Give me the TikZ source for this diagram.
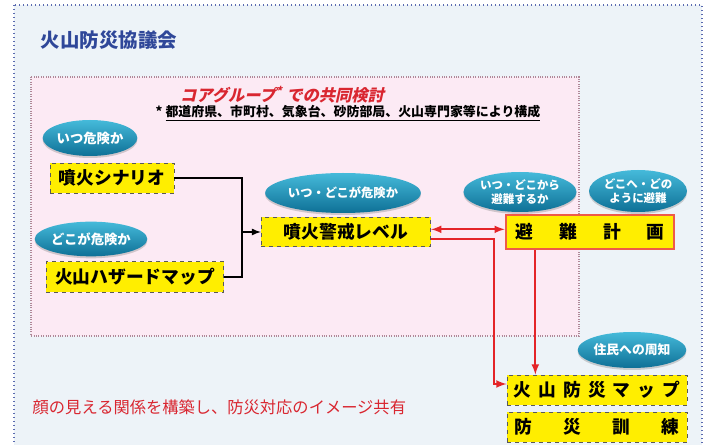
\documentclass[tikz,border=0pt]{standalone}
\usepackage{fontspec}
\setmainfont{Noto Sans CJK JP}
\newfontfamily\slantjp{Noto Sans CJK JP}[FakeSlant=0.22]
\usetikzlibrary{shapes.geometric,shadows}
\definecolor{councilbg}{HTML}{EDF3F8}
\definecolor{councilline}{HTML}{5A6AB0}
\definecolor{coregroupbg}{HTML}{FCEAF4}
\definecolor{coregroupline}{HTML}{B08898}
\definecolor{titleblue}{HTML}{2F4799}
\definecolor{notered}{HTML}{D92630}
\definecolor{arrowred}{HTML}{E42428}
\definecolor{ovaltop}{HTML}{45BADA}
\definecolor{ovalbottom}{HTML}{0E7096}
\definecolor{boxyellow}{HTML}{FFEE00}
\definecolor{planline}{HTML}{EE5A48}
\tikzset{
  question/.style={ellipse,inner sep=0pt,top color=ovaltop,bottom color=ovalbottom,
    text=white,font=\bfseries,align=center,
    drop shadow={shadow xshift=0pt,shadow yshift=-1.5pt,opacity=0.35}},
  product/.style={rectangle,inner sep=0pt,fill=boxyellow,draw=black!65,dashed,
    line width=0.7pt,font=\bfseries\fontsize{13.3}{15}\selectfont},
  flowline/.style={line width=1.3pt,black},
  redline/.style={line width=1.6pt,arrowred},
}
\begin{document}
\begin{tikzpicture}[>=latex,x=0.75pt,y=-0.75pt]
\useasboundingbox (0,0) rectangle (708,445);
%% frames
\fill[white] (0,0) rectangle (708,445);
\draw[councilline,dotted,line width=1pt,fill=councilbg] (14,5) rectangle (702,470);
\draw[coregroupline,densely dotted,line width=0.8pt,fill=coregroupbg] (31,77) rectangle (579,336);
%% texts
\node[anchor=west,text=titleblue,font=\bfseries\fontsize{14.6}{17}\selectfont] (council) at (36,40) {火山防災協議会};
\node[text=notered,font=\slantjp\bfseries\fontsize{12.2}{14}\selectfont] (coregroup) at (282,95) {コアグループ\textsuperscript{*} での共同検討};
\node[anchor=west,font=\bfseries\fontsize{9.7}{12}\selectfont] (members) at (151,113) {* \underline{都道府県、市町村、気象台、砂防部局、火山専門家等により構成}};
\node[anchor=west,text=notered,font=\fontsize{12.2}{14}\selectfont] (shared) at (28,407) {顔の見える関係を構築し、防災対応のイメージ共有};
%% Node: questions
\node[question,minimum width=71pt,minimum height=27pt,font=\bfseries\fontsize{10}{12}\selectfont] (when) at (90,138) {いつ危険か};
\node[question,minimum width=73.5pt,minimum height=26pt,font=\bfseries\fontsize{10}{12}\selectfont] (where) at (91,239) {どこが危険か};
\node[question,minimum width=105pt,minimum height=30pt,font=\bfseries\fontsize{9.2}{11}\selectfont] (whenwhere) at (343,193) {いつ・どこが危険か};
\node[question,minimum width=79.5pt,minimum height=30pt,font=\bfseries\fontsize{8.6}{10}\selectfont] (evacwhen) at (520,192) {いつ・どこから\\避難するか};
\node[question,minimum width=73.5pt,minimum height=31.5pt,font=\bfseries\fontsize{8.6}{10}\selectfont] (evachow) at (638,191) {どこへ・どの\\ように避難};
\node[question,minimum width=81pt,minimum height=27pt,font=\bfseries\fontsize{9.6}{11}\selectfont] (notice) at (632,350) {住民への周知};
%% Node: products
\node[product,minimum width=93pt,minimum height=22.5pt] (scenario) at (112,178) {噴火シナリオ};
\node[product,minimum width=133pt,minimum height=23pt] (hazard) at (135,277) {火山ハザードマップ};
\node[product,minimum width=127pt,minimum height=22pt] (level) at (346,232) {噴火警戒レベル};
\node[product,solid,draw=planline,line width=2pt,minimum width=126pt,minimum height=25.5pt] (plan) at (590,232) {\makebox[112pt]{避\hfill 難\hfill 計\hfill 画}};
\node[product,minimum width=135pt,minimum height=22.5pt] (map) at (597,390) {\makebox[125pt]{火\hfill 山\hfill 防\hfill 災\hfill マ\hfill ッ\hfill プ}};
\node[product,minimum width=135pt,minimum height=22.5pt] (drill) at (597,427) {\makebox[124pt]{防\hfill 災\hfill 訓\hfill 練}};
%% Edge: scenario, hazard -> level
\coordinate (join) at (242,232);
\draw[flowline] (scenario.east) -| (join);
\draw[flowline] (hazard.east) -| (join);
\draw[flowline,->] (join) -- (level.west);
%% Edge: level <-> plan
\draw[redline,<->] ([yshift=2pt]level.east) -- ([yshift=2pt]plan.west);
%% Edge: level -> map
\coordinate (bend) at (494,300);
\draw[redline,->] ([yshift=-5pt]level.east) -| (bend) |- ([yshift=4.5pt]map.west);
%% Edge: plan -> map
\draw[redline,->] ([xshift=-41pt]plan.south) -- ([xshift=-41pt]plan.south |- map.north);
\end{tikzpicture}
\end{document}
